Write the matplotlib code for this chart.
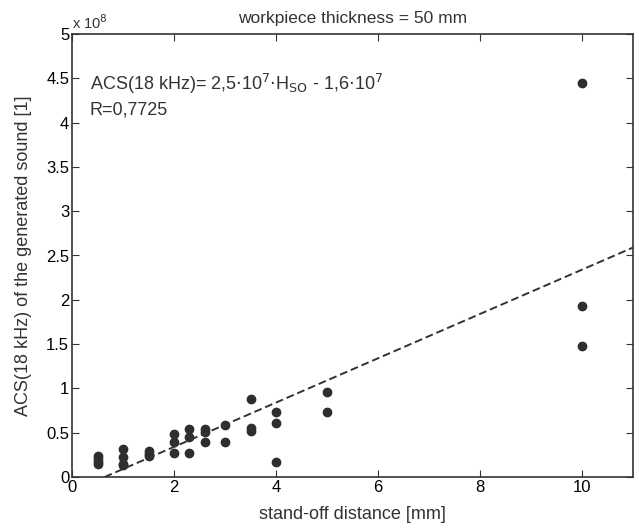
import numpy as np
import matplotlib.pyplot as plt
from matplotlib.ticker import FuncFormatter

plt.rcParams['font.family'] = ['Liberation Sans', 'DejaVu Sans']

# stand-off distance [mm] and ACS(18 kHz) values
x_pts = [0.5, 0.5, 0.5, 0.5,
         1, 1, 1, 1,
         1.5, 1.5, 1.5,
         2, 2, 2,
         2.3, 2.3, 2.3,
         2.6, 2.6, 2.6,
         3, 3,
         3.5, 3.5, 3.5,
         4, 4, 4,
         5, 5,
         10, 10, 10]
acs = [0.235e8, 0.20e8, 0.17e8, 0.15e8,
       0.32e8, 0.23e8, 0.15e8, 0.14e8,
       0.295e8, 0.26e8, 0.235e8,
       0.49e8, 0.39e8, 0.27e8,
       0.54e8, 0.45e8, 0.27e8,
       0.54e8, 0.51e8, 0.39e8,
       0.59e8, 0.39e8,
       0.88e8, 0.55e8, 0.52e8,
       0.73e8, 0.61e8, 0.17e8,
       0.96e8, 0.73e8,
       4.45e8, 1.93e8, 1.48e8]

slope = 2.5e7
intercept = -1.6e7

fig = plt.figure(figsize=(6.39, 5.28), dpi=100)
ax = fig.add_axes([72/639, 1 - 477/528, (633 - 72)/639, (477 - 34)/528])

ax.plot(x_pts, acs, 'o', color='#2e2e2e', markersize=6)
xl = np.array([-intercept / slope, 11])
ax.plot(xl, slope * xl + intercept, '--', color='#333333', linewidth=1.4, dashes=(4, 2))

ax.set_xlim(0, 11)
ax.set_ylim(0, 5e8)
ax.set_xticks([0, 2, 4, 6, 8, 10])
ax.set_yticks(np.arange(0, 5.01e8, 0.5e8))
ax.yaxis.set_major_formatter(FuncFormatter(lambda v, p: f"{v/1e8:g}"))
ax.tick_params(direction='in', top=True, right=True, labelsize=12, color='#333333', length=5, pad=2)
for s in ax.spines.values():
    s.set_color('#333333')
    s.set_linewidth(1.2)

ax.set_xlabel('stand-off distance [mm]', fontsize=13, color='#333333', labelpad=8)
ax.set_ylabel('ACS(18 kHz) of the generated sound [1]', fontsize=13, color='#333333', labelpad=10)
ax.set_title('workpiece thickness = 50 mm', fontsize=12.5, color='#333333', pad=8)
ax.text(0.0, 1.005, r'x 10$^8$', transform=ax.transAxes, fontsize=10.5, color='#333333', va='bottom')

ax.text(0.35, 4.44e8, r'ACS(18 kHz)= 2,5$\cdot$10$^7$$\cdot$H$_{\mathrm{SO}}$ - 1,6$\cdot$10$^7$',
        fontsize=13, color='#333333', va='center')
ax.text(0.35, 4.14e8, 'R=0,7725', fontsize=13, color='#333333', va='center')

fig.savefig('out.png', dpi=100)
